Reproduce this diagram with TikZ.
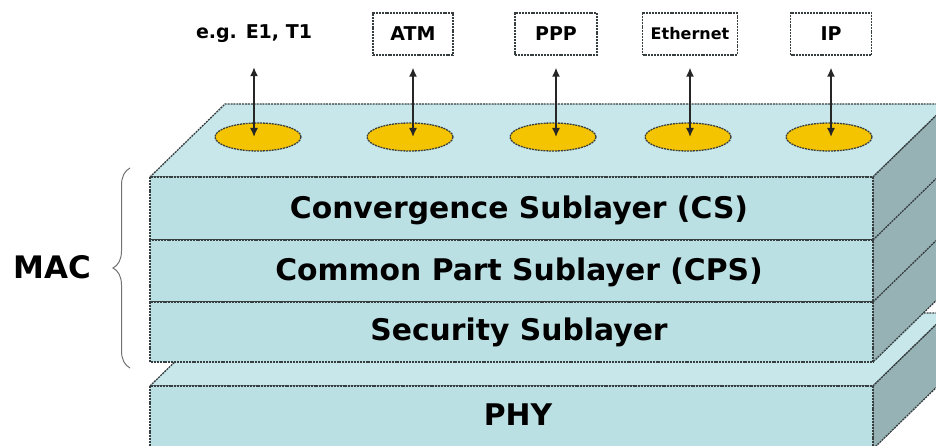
\documentclass[tikz,border=0pt]{standalone}
\usepackage{fontspec}
\setmainfont{DejaVu Sans}
\usetikzlibrary{shapes.geometric,arrows.meta,decorations.pathreplacing}
\definecolor{frontc}{RGB}{187,224,228}
\definecolor{topc}{RGB}{200,231,234}
\definecolor{sidec}{RGB}{150,178,181}
\definecolor{goldc}{RGB}{245,196,0}
\definecolor{edgec}{RGB}{55,62,64}
\begin{document}
\begin{tikzpicture}[x=1pt,y=-1pt,
  edge/.style={draw=edgec, line width=1.3pt, dash pattern=on 2pt off 0.9pt, line join=miter},
  layerlbl/.style={anchor=base, inner sep=0pt, font=\bfseries\fontsize{29.8}{34}\selectfont},
  toplbl/.style={minimum width=80pt, minimum height=42pt, inner sep=0pt, font=\bfseries\fontsize{19}{22}\selectfont},
  boxlbl/.style={toplbl, fill=white, edge},
  hole/.style={ellipse, fill=goldc, edge, minimum width=86pt, minimum height=28pt, inner sep=0pt},
  dbl/.style={draw=black!85, line width=1.5pt, {Latex[length=9pt,width=8pt]}-{Latex[length=9pt,width=8pt]}, shorten <=12pt}
]
\useasboundingbox (0,0) rectangle (936,446);
\clip (0,0) rectangle (936,446);

% ---- PHY block (behind) ----
\filldraw[fill=topc, edge] (150,386) -- (225,313) -- (948,313) -- (873,386) -- cycle;
\filldraw[fill=sidec, edge] (873,386) -- (948,313) -- (948,376) -- (873,449) -- cycle;
\filldraw[fill=frontc, edge] (150,386) rectangle (873,449);

% ---- MAC block ----
\filldraw[fill=topc, edge] (150,177) -- (225,104) -- (948,104) -- (873,177) -- cycle;
\filldraw[fill=sidec, edge] (873,177) -- (948,104) -- (948,289) -- (873,362) -- cycle;
\draw[edge] (873,240) -- (948,167);
\draw[edge] (873,302) -- (948,229);
\filldraw[fill=frontc, edge] (150,177) rectangle (873,240);
\filldraw[fill=frontc, edge] (150,240) rectangle (873,302);
\filldraw[fill=frontc, edge] (150,302) rectangle (873,362);

% ---- layer labels ----
\node[layerlbl] (cs)  at (519,219) {Convergence Sublayer (CS)};
\node[layerlbl] (cps) at (519,280) {Common Part Sublayer (CPS)};
\node[layerlbl] (sec) at (519,340) {Security Sublayer};
\node[layerlbl] (phy) at (518,425) {PHY};

% ---- MAC brace ----
\coordinate (brbot) at (130,368);
\coordinate (brtop) at (130,168);
\draw[draw=black!55, line width=1pt, decorate, decoration={brace, amplitude=17pt}] (brbot) -- (brtop);
\node[anchor=base, inner sep=0pt, font=\bfseries\fontsize{31}{36}\selectfont] (mac) at (52,278) {MAC};

% ---- service access points ----
\node[hole] (e1) at (258,137) {};
\node[hole] (e2) at (410,137) {};
\node[hole] (e3) at (553,137) {};
\node[hole] (e4) at (688,137) {};
\node[hole] (e5) at (829,137) {};

% ---- top labels ----
\node[toplbl] (l1) at (254,34) {e.g. E1, T1};
\node[boxlbl] (l2) at (413,34) {ATM};
\node[boxlbl, minimum width=82pt] (l3) at (556,34) {PPP};
\node[boxlbl, minimum width=95pt, font=\bfseries\fontsize{16}{19}\selectfont] (l4) at (690,34) {Ethernet};
\node[boxlbl, minimum width=81pt] (l5) at (831,34) {IP};

% ---- arrows ----
\draw[dbl] (l1.south) -- (l1.south |- e1.center);
\draw[dbl] (l2.south) -- (l2.south |- e2.center);
\draw[dbl] (l3.south) -- (l3.south |- e3.center);
\draw[dbl] (l4.south) -- (l4.south |- e4.center);
\draw[dbl] (l5.south) -- (l5.south |- e5.center);
\end{tikzpicture}
\end{document}
